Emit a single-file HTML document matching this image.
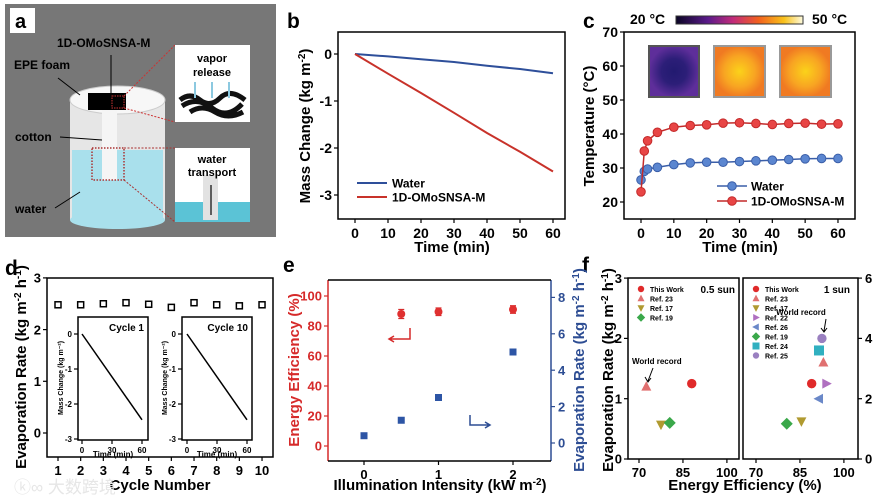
<!DOCTYPE html>
<html><head><meta charset="utf-8">
<style>
html,body{margin:0;padding:0;background:#fff;}
svg{display:block;font-family:"Liberation Sans","Noto Sans CJK SC",sans-serif;font-weight:bold;}
</style></head>
<body>
<svg id="fig" width="880" height="499" viewBox="0 0 880 499" xmlns="http://www.w3.org/2000/svg">
<!-- Panel a -->
<g>
  <rect x="5" y="4" width="271" height="233" fill="#777"/>
  <rect x="10" y="8" width="25" height="25" fill="#fff"/>
  <text x="15" y="28" font-size="20" fill="#000">a</text>
  <rect x="70" y="100" width="95" height="120" fill="#e6e6e6"/>
  <rect x="72" y="150" width="91" height="72" fill="#a9e0ec"/>
  <ellipse cx="117.5" cy="220" rx="47.5" ry="9" fill="#a9e0ec"/>
  <ellipse cx="117.5" cy="100" rx="47.5" ry="14" fill="#f7f7f7" stroke="#ccc"/>
  <rect x="102" y="110" width="15" height="70" fill="#f5f5f5"/>
  <rect x="88" y="93" width="38" height="17" fill="#000"/>
  <rect x="112" y="96" width="12" height="12" fill="none" stroke="#c33" stroke-dasharray="1.5,1"/>
  <rect x="92" y="148" width="32" height="32" fill="none" stroke="#a33" stroke-dasharray="1.5,1.5" stroke-width="1.5"/>
  <line x1="124" y1="96" x2="175" y2="45" stroke="#c33" stroke-dasharray="2,1.5"/>
  <line x1="124" y1="108" x2="175" y2="122" stroke="#c33" stroke-dasharray="2,1.5"/>
  <line x1="124" y1="148" x2="175" y2="148" stroke="#a33" stroke-dasharray="2,1.5"/>
  <line x1="124" y1="180" x2="175" y2="222" stroke="#a33" stroke-dasharray="2,1.5"/>
  <rect x="175" y="45" width="75" height="77" fill="#fff"/>
  <text x="212" y="62" font-size="11" text-anchor="middle" fill="#000">vapor</text>
  <text x="212" y="76" font-size="11" text-anchor="middle" fill="#000">release</text>
  <path d="M180 100 q10 -8 20 0 t20 -2 t25 2 M182 106 q15 -10 30 2 t30 -4 M190 112 q12 -8 25 0 t28 0" stroke="#111" stroke-width="5" fill="none"/>
  <path d="M195 98 l0 -16 M212 98 l0 -16 M229 98 l0 -16" stroke="#8cc9e0" stroke-width="2"/>
  <rect x="175" y="148" width="75" height="74" fill="#fff"/>
  <rect x="175" y="202" width="75" height="20" fill="#5bc3d6"/>
  <rect x="203" y="175" width="15" height="45" fill="#e2e2e2"/>
  <line x1="211" y1="215" x2="211" y2="185" stroke="#333" stroke-width="1.5"/>
  <text x="212" y="163" font-size="11" text-anchor="middle" fill="#000">water</text>
  <text x="212" y="176" font-size="11" text-anchor="middle" fill="#000">transport</text>
  <text x="57" y="47" font-size="12" fill="#000">1D-OMoSNSA-M</text>
  <line x1="111" y1="55" x2="111" y2="95" stroke="#000"/>
  <text x="14" y="69" font-size="12" fill="#000">EPE foam</text>
  <line x1="58" y1="78" x2="80" y2="95" stroke="#000"/>
  <text x="15" y="141" font-size="12" fill="#000">cotton</text>
  <line x1="60" y1="137" x2="102" y2="140" stroke="#000"/>
  <text x="15" y="213" font-size="12" fill="#000">water</text>
  <line x1="55" y1="208" x2="80" y2="192" stroke="#000"/>
</g>

<!-- Panel letters & titles -->
<text x="287" y="28" font-size="21">b</text>
<text x="583" y="28" font-size="21">c</text>
<text x="5" y="275" font-size="21">d</text>
<text x="283" y="272" font-size="21">e</text>
<text x="582" y="272" font-size="21">f</text>

<text transform="translate(310,126) rotate(-90)" font-size="15" text-anchor="middle">Mass Change (kg m<tspan font-size="10" dy="-5">-2</tspan><tspan dy="5">)</tspan></text>
<text x="452" y="252" font-size="15" text-anchor="middle">Time (min)</text>
<text transform="translate(594,126) rotate(-90)" font-size="15" text-anchor="middle">Temperature (°C)</text>
<text x="740" y="252" font-size="15" text-anchor="middle">Time (min)</text>
<text transform="translate(26,367) rotate(-90)" font-size="15" text-anchor="middle">Evaporation Rate (kg m<tspan font-size="10" dy="-5">-2</tspan><tspan dy="5"> h</tspan><tspan font-size="10" dy="-5">-1</tspan><tspan dy="5">)</tspan></text>
<text x="160" y="490" font-size="15" text-anchor="middle">Cycle Number</text>
<text x="14" y="493" font-size="17" fill="#e6e6e6" font-weight="normal">ⓚ∞ 大数跨境</text>
<text transform="translate(299,370) rotate(-90)" font-size="15" text-anchor="middle" fill="#d62a2a">Energy Efficiency (%)</text>
<text transform="translate(584,370) rotate(-90)" font-size="15" text-anchor="middle" fill="#2d4d93">Evaporation Rate (kg m<tspan font-size="10" dy="-5">-2</tspan><tspan dy="5"> h</tspan><tspan font-size="10" dy="-5">-1</tspan><tspan dy="5">)</tspan></text>
<text x="440" y="490" font-size="15" text-anchor="middle">Illumination Intensity (kW m<tspan font-size="10" dy="-5">-2</tspan><tspan dy="5">)</tspan></text>
<text transform="translate(613,370) rotate(-90)" font-size="15" text-anchor="middle">Evaporation Rate (kg m<tspan font-size="10" dy="-5">-2</tspan><tspan dy="5"> h</tspan><tspan font-size="10" dy="-5">-1</tspan><tspan dy="5">)</tspan></text>
<text x="745" y="490" font-size="15" text-anchor="middle">Energy Efficiency (%)</text>

<!-- c colorbar and thermal images -->
<defs>
  <linearGradient id="inferno" x1="0" x2="1">
    <stop offset="0" stop-color="#0a0524"/><stop offset="0.25" stop-color="#5a1a8a"/>
    <stop offset="0.45" stop-color="#c22b7a"/><stop offset="0.65" stop-color="#f2601e"/>
    <stop offset="0.85" stop-color="#f9c11a"/><stop offset="1" stop-color="#fdfbe0"/>
  </linearGradient>
  <radialGradient id="hot"><stop offset="0" stop-color="#fbd21a"/><stop offset="0.6" stop-color="#f8a522"/><stop offset="1" stop-color="#f07a22"/></radialGradient>
  <radialGradient id="cold"><stop offset="0" stop-color="#221a70"/><stop offset="0.5" stop-color="#2c1e78"/><stop offset="1" stop-color="#5e2e9a"/></radialGradient>
</defs>
<text x="630" y="24" font-size="14">20 °C</text>
<rect x="676" y="16" width="127" height="8" fill="url(#inferno)" stroke="#333"/>
<text x="812" y="24" font-size="14">50 °C</text>
<rect x="649" y="46" width="50" height="51" fill="url(#cold)" stroke="#555" stroke-width="2"/>
<rect x="714" y="46" width="51" height="51" fill="url(#hot)" stroke="#999" stroke-width="2"/>
<rect x="780" y="46" width="51" height="51" fill="url(#hot)" stroke="#999" stroke-width="2"/>

<g id="plots"></g>
</svg>
<script>
// ---------- data ----------
const bTimes = [0,10,20,30,40,50,60];
const bWater = [0,-0.05,-0.11,-0.17,-0.25,-0.32,-0.41];
const bAbsorber = [0,-0.42,-0.83,-1.25,-1.68,-2.08,-2.5];
const cTimes = [0,1,2,5,10,15,20,25,30,35,40,45,50,55,60];
const cWater = [26.5,29,29.7,30.2,31,31.5,31.7,31.7,31.9,32.1,32.3,32.5,32.7,32.8,32.8];
const cAbsorber = [23,35,38,40.5,42,42.5,42.7,43.2,43.3,43.1,42.8,43.1,43.2,42.9,43];
const dCycles = [1,2,3,4,5,6,7,8,9,10];
const dRates = [2.48,2.48,2.5,2.52,2.49,2.43,2.52,2.48,2.46,2.48];
const dInsetTimes = [0,60];
const dInset1 = [0,-2.45];
const dInset10 = [0,-2.45];
const eIntensity = [0.5,1,2];
const eEfficiency = [88,89.5,91];
const eEffErr = [3,2.5,2.5];
const eRateIntensity = [0,0.5,1,2];
const eRates = [0.4,1.25,2.5,5];
const fLeftNames = ["This Work","Ref. 23","Ref. 17","Ref. 19"];
const fLeftEff = [88,72.5,77.5,80.5];
const fLeftRate = [1.25,1.2,0.57,0.6];
const fRightNames = ["This Work","Ref. 23","Ref. 17","Ref. 22","Ref. 26","Ref. 19","Ref. 24","Ref. 25"];
const fRightEff = [89,93,85.5,94,91.5,80.5,91.5,92.5];
const fRightRate = [2.5,3.2,1.25,2.5,2,1.17,3.6,4];

const NS = "http://www.w3.org/2000/svg";
const root = document.getElementById('plots');
function mk(tag, attrs, parent){
  const e = document.createElementNS(NS, tag);
  for (const k in attrs) e.setAttribute(k, attrs[k]);
  (parent||root).appendChild(e);
  return e;
}
function frame(x0,y0,x1,y1,name){
  const r = mk('rect',{x:x0,y:y0,width:x1-x0,height:y1-y0,fill:'none',stroke:'#000','stroke-width':1.5});
  
  
}
function xTicks(vals, sx, y, fs, name, color){
  vals.forEach(v=>{
    const t = mk('line',{x1:sx(v),x2:sx(v),y1:y,y2:y+4,stroke:color||'#000','stroke-width':1.2});
    
    
    const l = mk('text',{x:sx(v),y:y+5+fs,'font-size':fs,'text-anchor':'middle',fill:color||'#000'});
    l.textContent = v;
    
    
  });
}
function yTicks(vals, sy, x, fs, name, side, color){
  vals.forEach(v=>{
    const d = side==='right' ? 4 : -4;
    const t = mk('line',{x1:x,x2:x+d,y1:sy(v),y2:sy(v),stroke:color||'#000','stroke-width':1.2});
    
    
    const l = mk('text',{x:x+(side==='right'?7:-6),y:sy(v)+fs*0.36,'font-size':fs,'text-anchor':side==='right'?'start':'end',fill:color||'#000'});
    l.textContent = v;
    
    
  });
}
function pathFrom(xs, ys, sx, sy){
  return xs.map((x,i)=>(i?'L':'M')+sx(x).toFixed(1)+' '+sy(ys[i]).toFixed(1)).join(' ');
}

// ---------- panel b ----------
const xb = v=>355+v*3.3, yb = v=>54-v*47;
frame(338,32,565,219,'b-plot-frame');
xTicks([0,10,20,30,40,50,60], xb, 219, 14, 'b-x');
yTicks([0,-1,-2,-3], yb, 338, 14, 'b-y');
const bw = mk('path',{d:pathFrom(bTimes,bWater,xb,yb),fill:'none',stroke:'#2e4f9a','stroke-width':2});


const ba = mk('path',{d:pathFrom(bTimes,bAbsorber,xb,yb),fill:'none',stroke:'#c8322a','stroke-width':2});


[['Water','#2e4f9a',183],['1D-OMoSNSA-M','#c8322a',197]].forEach(([n,c,y])=>{
  const l = mk('line',{x1:357,x2:387,y1:y,y2:y,stroke:c,'stroke-width':2});
  
  
  const t = mk('text',{x:392,y:y+4.5,'font-size':12});
  t.textContent = n;
  
  
});

// ---------- panel c ----------
const xc = v=>641+v*3.283, yc = v=>202-(v-20)*3.4;
frame(624,32,855,219,'c-plot-frame');
xTicks([0,10,20,30,40,50,60], xc, 219, 14, 'c-x');
yTicks([20,30,40,50,60,70], yc, 624, 14, 'c-y');
[[cWater,'#3a5ea8','#5b86d0','water'],[cAbsorber,'#c42a2a','#e84545','absorber']].forEach(([ys,sc,fc,nm])=>{
  const p = mk('path',{d:pathFrom(cTimes,ys,xc,yc),fill:'none',stroke:sc,'stroke-width':1.5});
  
  
  cTimes.forEach((t,i)=>{
    const m = mk('circle',{cx:xc(t),cy:yc(ys[i]),r:4.3,fill:fc,stroke:sc,'stroke-width':1});
    
    
  });
});
[['Water','#3a5ea8','#5b86d0',186],['1D-OMoSNSA-M','#c42a2a','#e84545',201]].forEach(([n,sc,fc,y])=>{
  const l = mk('line',{x1:717,x2:747,y1:y,y2:y,stroke:sc,'stroke-width':1.5});
  
  
  const m = mk('circle',{cx:732,cy:y,r:4.3,fill:fc,stroke:sc});
  
  
  const t = mk('text',{x:751,y:y+4.5,'font-size':12});
  t.textContent = n;
  
  
});

// ---------- panel d ----------
const xd = v=>58+(v-1)*22.67, yd = v=>433-v*51.7;
frame(47,278,273,457,'d-plot-frame');
xTicks(dCycles, xd, 457, 13, 'd-x');
yTicks([0,1,2,3], yd, 47, 13, 'd-y');
dCycles.forEach((c,i)=>{
  const m = mk('rect',{x:xd(c)-3,y:yd(dRates[i])-3,width:6,height:6,fill:'#fff',stroke:'#000','stroke-width':1.5});
  
  
});
[[78,148,82,'Cycle 1',dInset1,'cycle-1'],[182,252,187,'Cycle 10',dInset10,'cycle-10']].forEach(([x0,x1,ox,title,ys,nm])=>{
  frame(x0,317,x1,440,'d-inset-'+nm+'-frame');
  const xi = v=>ox+v*1.0, yi = v=>334-v*35;
  const ln = mk('path',{d:pathFrom(dInsetTimes,ys,xi,yi),fill:'none',stroke:'#000','stroke-width':1.5});
  
  
  xTicks([0,30,60], xi, 440, 8, 'd-inset-x');
  yTicks([0,-1,-2,-3], yi, x0, 8, 'd-inset-y');
  const tt = mk('text',{x:x1-4,y:331,'font-size':10,'text-anchor':'end'});
  tt.textContent = title;
  
  
  const xt = mk('text',{x:(x0+x1)/2,y:457,'font-size':8,'text-anchor':'middle'});
  xt.textContent = 'Time (min)';
  
  
  const yt = mk('text',{transform:`translate(${x0-15},378) rotate(-90)`,'font-size':7,'text-anchor':'middle'});
  yt.textContent = 'Mass Change (kg m⁻²)';
  
  
});

// ---------- panel e ----------
const xe = v=>364+v*74.5, yeL = v=>446-v*1.5, yeR = v=>443-v*18.2;
const eL = mk('line',{x1:328,x2:328,y1:280,y2:461,stroke:'#d62a2a','stroke-width':1.5});


const eR = mk('line',{x1:551,x2:551,y1:280,y2:461,stroke:'#2d4d93','stroke-width':1.5});


const eB = mk('line',{x1:328,x2:551,y1:461,y2:461,stroke:'#000','stroke-width':1.5});


const eT = mk('line',{x1:328,x2:551,y1:280,y2:280,stroke:'#000','stroke-width':1.5});


xTicks([0,1,2], xe, 461, 13, 'e-x');
yTicks([0,20,40,60,80,100], yeL, 328, 13, 'e-left-y', 'left', '#d62a2a');
yTicks([0,2,4,6,8], yeR, 551, 13, 'e-right-y', 'right', '#2d4d93');
eIntensity.forEach((x,i)=>{
  const eb = mk('path',{d:`M${xe(x)} ${yeL(eEfficiency[i]+eEffErr[i])} V${yeL(eEfficiency[i]-eEffErr[i])} M${xe(x)-3} ${yeL(eEfficiency[i]+eEffErr[i])} h6 M${xe(x)-3} ${yeL(eEfficiency[i]-eEffErr[i])} h6`,stroke:'#d62a2a','stroke-width':1.2,fill:'none'});
  
  
  const m = mk('circle',{cx:xe(x),cy:yeL(eEfficiency[i]),r:4,fill:'#e03030'});
  
  
});
eRateIntensity.forEach((x,i)=>{
  const m = mk('rect',{x:xe(x)-3.5,y:yeR(eRates[i])-3.5,width:7,height:7,fill:'#2d55a5'});
  
  
});
const ea1 = mk('path',{d:'M410 328 V339 H390 M394 336 L389 339 L394 342',stroke:'#d62a2a','stroke-width':1.5,fill:'none'});


const ea2 = mk('path',{d:'M470 415 V425 H489 M485 422 L490 425 L485 428',stroke:'#2d4d93','stroke-width':1.5,fill:'none'});



// ---------- panel f ----------
const xfL = v=>639+(v-70)*2.93, yfL = v=>459-v*60.3;
const xfR = v=>756+(v-70)*2.93, yfR = v=>459-v*30.15;
frame(628,278,739,459,'f-left-frame');
frame(743,278,858,459,'f-right-frame');
xTicks([70,85,100], xfL, 459, 13, 'f-left-x');
xTicks([70,85,100], xfR, 459, 13, 'f-right-x');
yTicks([0,1,2,3], yfL, 628, 13, 'f-left-y');
yTicks([0,2,4,6], yfR, 858, 13, 'f-right-y', 'right');
const fStyle = {
  'This Work':['circle','#e02a2a'],'Ref. 23':['tri','#e07070'],'Ref. 17':['tridown','#b09a30'],
  'Ref. 22':['triright','#b070c0'],'Ref. 26':['trileft','#6a88c8'],'Ref. 19':['diamond','#3aa84a'],
  'Ref. 24':['square','#30b0c0'],'Ref. 25':['circle','#9a80c0']
};
function marker(kind,color,x,y,s){
  let e;
  if (kind==='circle') e = mk('circle',{cx:x,cy:y,r:s,fill:color,stroke:'#fff','stroke-width':0.6});
  else if (kind==='square') e = mk('rect',{x:x-s,y:y-s,width:2*s,height:2*s,fill:color});
  else {
    const pts = {tri:[[0,-1.1],[1,0.8],[-1,0.8]],tridown:[[0,1.1],[1,-0.8],[-1,-0.8]],
      triright:[[1.1,0],[-0.8,-1],[-0.8,1]],trileft:[[-1.1,0],[0.8,-1],[0.8,1]],diamond:[[0,-1.2],[1.2,0],[0,1.2],[-1.2,0]]}[kind];
    e = mk('polygon',{points:pts.map(p=>(x+p[0]*s)+','+(y+p[1]*s)).join(' '),fill:color});
  }
  return e;
}
fLeftNames.forEach((n,i)=>{
  const [k,c] = fStyle[n];
  const m = marker(k,c,xfL(fLeftEff[i]),yfL(fLeftRate[i]),5);
  
  
  const lm = marker(k,c,641,289+i*9.5,3.5);
  
  
  const t = mk('text',{x:650,y:292+i*9.5,'font-size':7});
  t.textContent = n;
  
  
});
fRightNames.forEach((n,i)=>{
  const [k,c] = fStyle[n];
  const m = marker(k,c,xfR(fRightEff[i]),yfR(fRightRate[i]),5);
  
  
  const lm = marker(k,c,756,289+i*9.5,3.5);
  
  
  const t = mk('text',{x:765,y:292+i*9.5,'font-size':7});
  t.textContent = n;
  
  
});
[[735,293,'end','0.5 sun','f-left-condition'],[850,293,'end','1 sun','f-right-condition']].forEach(([x,y,a,s,nm])=>{
  const t = mk('text',{x:x,y:y,'font-size':10,'text-anchor':a});
  t.textContent = s;
  
  
});
const wr1 = mk('text',{x:632,y:364,'font-size':8});
wr1.textContent = 'World record';


const wa1 = mk('path',{d:'M653 368 L648 381 M645 377 L648 382 L651 378',stroke:'#000','stroke-width':1,fill:'none'});


const wr2 = mk('text',{x:801,y:315,'font-size':8,'text-anchor':'middle'});
wr2.textContent = 'World record';


const wa2 = mk('path',{d:'M826 319 L824 331 M821 328 L824 332 L827 328',stroke:'#000','stroke-width':1,fill:'none'});


</script>
</body></html>
